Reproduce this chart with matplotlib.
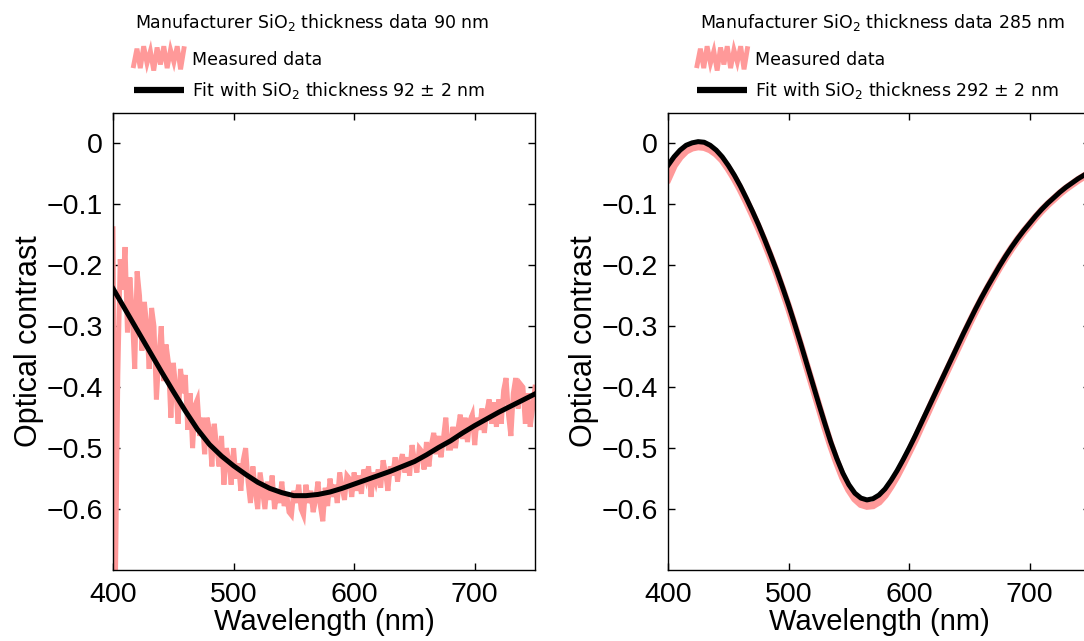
"""
optical contrast vs wavelength for two SiO2 thicknesses, measured spectra with thin-film fits
"""

import numpy as np
import matplotlib
matplotlib.use("Agg")
import matplotlib.pyplot as plt
from matplotlib.legend_handler import HandlerBase
from matplotlib.lines import Line2D

plt.rcParams['mathtext.default'] = 'regular'

# 90 nm wafer: measured spectrum on a 2 nm grid
wl_meas_90 = np.arange(400, 751, 2)
contrast_meas_90 = [
    -0.14, -0.72, -0.38, -0.19, -0.24, -0.17, -0.31, -0.22, -0.28, -0.37,
    -0.21, -0.25, -0.34, -0.26, -0.30, -0.37, -0.27, -0.30, -0.42, -0.35,
    -0.30, -0.39, -0.33, -0.36, -0.45, -0.36, -0.40, -0.46, -0.37, -0.41,
    -0.38, -0.47, -0.41, -0.50, -0.43, -0.42, -0.48, -0.45, -0.51, -0.45,
    -0.47, -0.53, -0.46, -0.50, -0.53, -0.48, -0.56, -0.50, -0.52, -0.56,
    -0.50, -0.55, -0.525, -0.57, -0.52, -0.50, -0.555, -0.59, -0.53, -0.57,
    -0.60, -0.54, -0.57, -0.60, -0.555, -0.585, -0.545, -0.60, -0.57, -0.59,
    -0.555, -0.595, -0.575, -0.605, -0.61, -0.57, -0.59, -0.56, -0.60, -0.61,
    -0.56, -0.59, -0.57, -0.605, -0.585, -0.555, -0.595, -0.62, -0.565, -0.595,
    -0.55, -0.58, -0.56, -0.59, -0.54, -0.565, -0.585, -0.545, -0.55, -0.58,
    -0.54, -0.57, -0.545, -0.575, -0.535, -0.55, -0.53, -0.58, -0.54, -0.555,
    -0.535, -0.565, -0.52, -0.54, -0.57, -0.53, -0.545, -0.515, -0.555, -0.525,
    -0.51, -0.54, -0.515, -0.545, -0.495, -0.52, -0.54, -0.50, -0.505, -0.535,
    -0.49, -0.53, -0.495, -0.475, -0.51, -0.48, -0.515, -0.485, -0.45, -0.50,
    -0.50, -0.465, -0.50, -0.47, -0.445, -0.485, -0.45, -0.49, -0.455, -0.445,
    -0.495, -0.45, -0.47, -0.435, -0.475, -0.44, -0.42, -0.46, -0.425, -0.465,
    -0.42, -0.46, -0.405, -0.385, -0.445, -0.48, -0.41, -0.385, -0.435, -0.395,
    -0.40, -0.46, -0.41, -0.465, -0.435, -0.40,
]

# 90 nm wafer: fitted curve (92 nm) on a 10 nm grid
wl_fit_90 = np.arange(400, 751, 10)
contrast_fit_90 = [
    -0.238, -0.272, -0.306, -0.340, -0.374, -0.407, -0.439, -0.469, -0.494, -0.513,
    -0.529, -0.543, -0.556, -0.566, -0.573, -0.578, -0.578, -0.576, -0.572, -0.566,
    -0.559, -0.552, -0.545, -0.538, -0.530, -0.522, -0.511, -0.499, -0.488, -0.475,
    -0.463, -0.452, -0.441, -0.431, -0.421, -0.411,
]

# 285 nm wafer: measured spectrum and fitted curve (292 nm) on a 5 nm grid
wl_285 = np.arange(400, 751, 5)
contrast_meas_285 = [
    -0.058, -0.036, -0.022, -0.012, -0.007, -0.005, -0.006, -0.010, -0.017, -0.027,
    -0.041, -0.057, -0.075, -0.095, -0.116, -0.138, -0.161, -0.186, -0.212, -0.240,
    -0.269, -0.300, -0.332, -0.365, -0.398, -0.431, -0.464, -0.495, -0.523, -0.548,
    -0.568, -0.583, -0.592, -0.595, -0.594, -0.588, -0.577, -0.562, -0.545, -0.526,
    -0.506, -0.486, -0.464, -0.443, -0.421, -0.400, -0.379, -0.358, -0.337, -0.316,
    -0.295, -0.275, -0.256, -0.238, -0.220, -0.203, -0.187, -0.172, -0.158, -0.145,
    -0.133, -0.121, -0.110, -0.100, -0.091, -0.082, -0.074, -0.067, -0.060, -0.054,
    -0.048,
]
contrast_fit_285 = [
    -0.036, -0.022, -0.011, -0.003, 0.001, 0.003, 0.002, -0.003, -0.011, -0.022,
    -0.036, -0.052, -0.070, -0.090, -0.111, -0.133, -0.157, -0.182, -0.208, -0.236,
    -0.265, -0.296, -0.328, -0.361, -0.394, -0.427, -0.459, -0.490, -0.517, -0.541,
    -0.560, -0.574, -0.582, -0.585, -0.583, -0.577, -0.567, -0.553, -0.537, -0.519,
    -0.500, -0.480, -0.459, -0.438, -0.417, -0.396, -0.375, -0.354, -0.333, -0.312,
    -0.292, -0.272, -0.253, -0.235, -0.218, -0.201, -0.185, -0.170, -0.156, -0.143,
    -0.131, -0.119, -0.108, -0.098, -0.089, -0.080, -0.072, -0.065, -0.058, -0.052,
    -0.046,
]

nominal_thickness = [90, 285]
fitted_thickness = [92, 292]

xticks = [400, 500, 600, 700]
yticks = [0, -0.1, -0.2, -0.3, -0.4, -0.5, -0.6]
ytick_labels = ['0', '\u22120.1', '\u22120.2', '\u22120.3', '\u22120.4', '\u22120.5', '\u22120.6']

# jagged legend icon for the measured trace (fractions of handle height)
icon_zigzag = [0.2, 0.9, 0.1, 1.0, 0.3, 0.8, 0.0, 0.95, 0.25, 1.0, 0.1, 0.85, 0.35, 1.0, 0.05, 0.9]

PINK = '#ff9999'
axis_font = ['Liberation Sans', 'DejaVu Sans']


class NoisyHandler(HandlerBase):
    """draws a jagged pink stroke as the legend key"""
    def create_artists(self, legend, orig_handle, xdescent, ydescent,
                       width, height, fontsize, trans):
        xs = np.linspace(-xdescent, width - xdescent, len(icon_zigzag))
        ys = np.array(icon_zigzag) * height * 2.0 - height * 0.45 - ydescent
        line = Line2D(xs, ys, color=PINK, lw=3.5, solid_joinstyle='miter',
                      transform=trans)
        return [line]


fig = plt.figure(figsize=(10.84, 6.41), dpi=100)
ax_left = fig.add_axes([113 / 1084, 1 - 570 / 641, 422 / 1084, 457 / 641])
ax_right = fig.add_axes([668 / 1084, 1 - 570 / 641, 422 / 1084, 457 / 641])

# (axes, measured x, measured y, fit x, fit y, legend x, title x)
panels = [
    (ax_left, wl_meas_90, contrast_meas_90, wl_fit_90, contrast_fit_90, 0.020, 0.052),
    (ax_right, wl_285, contrast_meas_285, wl_285, contrast_fit_285, 0.040, 0.076),
]

for i, (ax, wl_m, c_m, wl_f, c_f, leg_x, title_x) in enumerate(panels):
    meas_line, = ax.plot(wl_m, c_m, color=PINK, lw=3.6 if i == 0 else 5.5,
                         solid_joinstyle='miter', zorder=2)
    fit_line, = ax.plot(wl_f, c_f, color='black', lw=3.6, zorder=3)

    ax.set_xlim(400, 750)
    ax.set_ylim(-0.7, 0.05)
    ax.set_xticks(xticks)
    ax.set_yticks(yticks)
    ax.set_yticklabels(ytick_labels)
    ax.tick_params(direction='in', length=5, width=1, top=True, right=True,
                   labelsize=20.5, pad=7.5)
    ax.tick_params(axis='x', pad=9)
    for lab in ax.get_xticklabels() + ax.get_yticklabels():
        lab.set_family(axis_font)
    for sp in ax.spines.values():
        sp.set_linewidth(1.0)

    ax.set_xlabel('Wavelength (nm)', fontsize=21, family=axis_font, labelpad=0)
    ax.set_ylabel('Optical contrast', fontsize=22, family=axis_font)
    ax.yaxis.set_label_coords(-0.163, 0.5)

    # wafer spec line sits above the legend entries
    ax.text(title_x, 1.199,
            f'Manufacturer SiO$_2$ thickness data {nominal_thickness[i]} nm',
            transform=ax.transAxes, ha='left', va='center',
            fontsize=12.5, family='DejaVu Sans')

    leg = ax.legend(
        [meas_line, fit_line],
        ['Measured data',
         f'Fit with SiO$_2$ thickness {fitted_thickness[i]} \u00b1 2 nm'],
        handler_map={meas_line: NoisyHandler()},
        loc='lower left', bbox_to_anchor=(leg_x, 1.0), frameon=False,
        fontsize=12.5, handlelength=2.9, handletextpad=0.45, labelspacing=0.62,
        borderpad=0.2, borderaxespad=0.5,
    )
    for t in leg.get_texts():
        t.set_family('DejaVu Sans')
    leg.legend_handles[1].set_linewidth(4.5)
    leg.legend_handles[1].set_solid_capstyle('butt')

fig.savefig('out.png', dpi=100)
